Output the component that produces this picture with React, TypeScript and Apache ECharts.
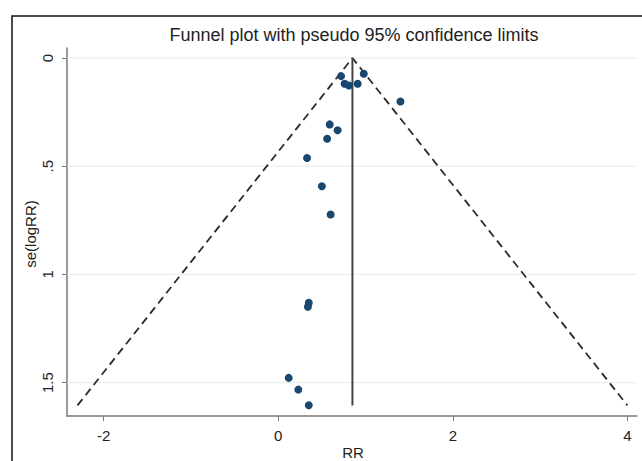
import React, { useEffect, useRef } from "react";
import * as echarts from "echarts";

// Study estimates: RR (x) and se(logRR) (y)
const studyRR = [0.72, 0.76, 0.81, 0.91, 0.98, 1.40, 0.59, 0.68, 0.56, 0.33, 0.50, 0.60, 0.35, 0.34, 0.12, 0.23, 0.35];
const studySE = [0.084, 0.119, 0.127, 0.119, 0.073, 0.201, 0.307, 0.334, 0.373, 0.462, 0.593, 0.723, 1.131, 1.149, 1.478, 1.532, 1.604];

// Pooled estimate and pseudo 95% limits
const pooledRR = 0.85;
const funnelX = [-2.30, 0.85, 4.00];
const funnelY = [1.605, 0, 1.605];
const pooledLineY = [0, 1.605];

// Axes
const xTickValues = [-2, 0, 2, 4];
const yTickValues = [0, 0.5, 1, 1.5];
const yTickLabels = ["0", ".5", "1", "1.5"];
const xMin = -2.42;
const xMax = 4.11;
const yMin = -0.046;
const yMax = 1.654;

const titleText = "Funnel plot with pseudo 95% confidence limits";
const xName = "RR";
const yName = "se(logRR)";

export default function App() {
  const ref = useRef<HTMLDivElement>(null);
  useEffect(() => {
    if (!ref.current) return;
    const chart = echarts.init(ref.current, undefined, { renderer: "svg" });
    const font = "'Liberation Sans', Arial, sans-serif";
    const gridSeries = yTickValues.map((v) => ({
      type: "line",
      data: [[xMin, v], [xMax, v]],
      symbol: "none",
      silent: true,
      lineStyle: { color: "#e4eeee", width: 1 },
      z: 1,
    }));
    chart.setOption({
      animation: false,
      backgroundColor: "#ffffff",
      grid: { left: 67, top: 48, width: 570, height: 368, containLabel: false },
      xAxis: {
        type: "value",
        min: xMin,
        max: xMax,
        splitLine: { show: false },
        axisLine: { show: true, onZero: false, lineStyle: { color: "#7a7a7a", width: 1.5 } },
        axisTick: { show: true, customValues: xTickValues, length: 5, lineStyle: { color: "#7a7a7a", width: 1 } },
        axisLabel: {
          customValues: xTickValues,
          margin: 12,
          fontSize: 15,
          color: "#222",
          fontFamily: font,
        },
      },
      yAxis: {
        type: "value",
        inverse: true,
        min: yMin,
        max: yMax,
        splitLine: { show: false },
        axisLine: { show: true, onZero: false, lineStyle: { color: "#7a7a7a", width: 1.5 } },
        axisTick: { show: true, customValues: yTickValues, length: 5, lineStyle: { color: "#7a7a7a", width: 1 } },
        axisLabel: {
          customValues: yTickValues,
          rotate: 90,
          margin: 12,
          fontSize: 15,
          color: "#222",
          fontFamily: font,
          formatter: (v: number) => {
            const i = yTickValues.findIndex((t) => Math.abs(t - v) < 1e-9);
            return i >= 0 ? yTickLabels[i] : "";
          },
        },
      },
      graphic: [
        {
          type: "rect",
          shape: { x: 12, y: 16, width: 700, height: 500 },
          style: { fill: "none", stroke: "#111", lineWidth: 1.5 },
          silent: true,
        },
        {
          type: "text",
          x: 354,
          y: 35,
          style: {
            text: titleText,
            font: `18px ${font}`,
            fill: "#222",
            textAlign: "center",
            textVerticalAlign: "middle",
          },
        },
        {
          type: "text",
          x: 353,
          y: 452,
          style: {
            text: xName,
            font: `15px ${font}`,
            fill: "#222",
            textAlign: "center",
            textVerticalAlign: "middle",
          },
        },
        {
          type: "text",
          x: 30,
          y: 234,
          rotation: Math.PI / 2,
          style: {
            text: yName,
            font: `15px ${font}`,
            fill: "#222",
            textAlign: "center",
            textVerticalAlign: "middle",
          },
        },
      ],
      series: [
        ...gridSeries,
        {
          type: "line",
          data: funnelX.map((x, i) => [x, funnelY[i]]),
          symbol: "none",
          silent: true,
          lineStyle: { color: "#2a2a2a", width: 1.8, type: [8, 5] },
          z: 2,
        },
        {
          type: "line",
          data: pooledLineY.map((y) => [pooledRR, y]),
          symbol: "none",
          silent: true,
          lineStyle: { color: "#444", width: 2 },
          z: 2,
        },
        {
          type: "scatter",
          data: studyRR.map((x, i) => [x, studySE[i]]),
          symbol: "circle",
          symbolSize: 8,
          itemStyle: { color: "#1a476f", opacity: 1 },
          z: 3,
        },
      ],
    });
    return () => chart.dispose();
  }, []);
  return (
    <div
      ref={ref}
      style={{ position: "absolute", left: 0, top: 0, width: 642, height: 461 }}
    />
  );
}
